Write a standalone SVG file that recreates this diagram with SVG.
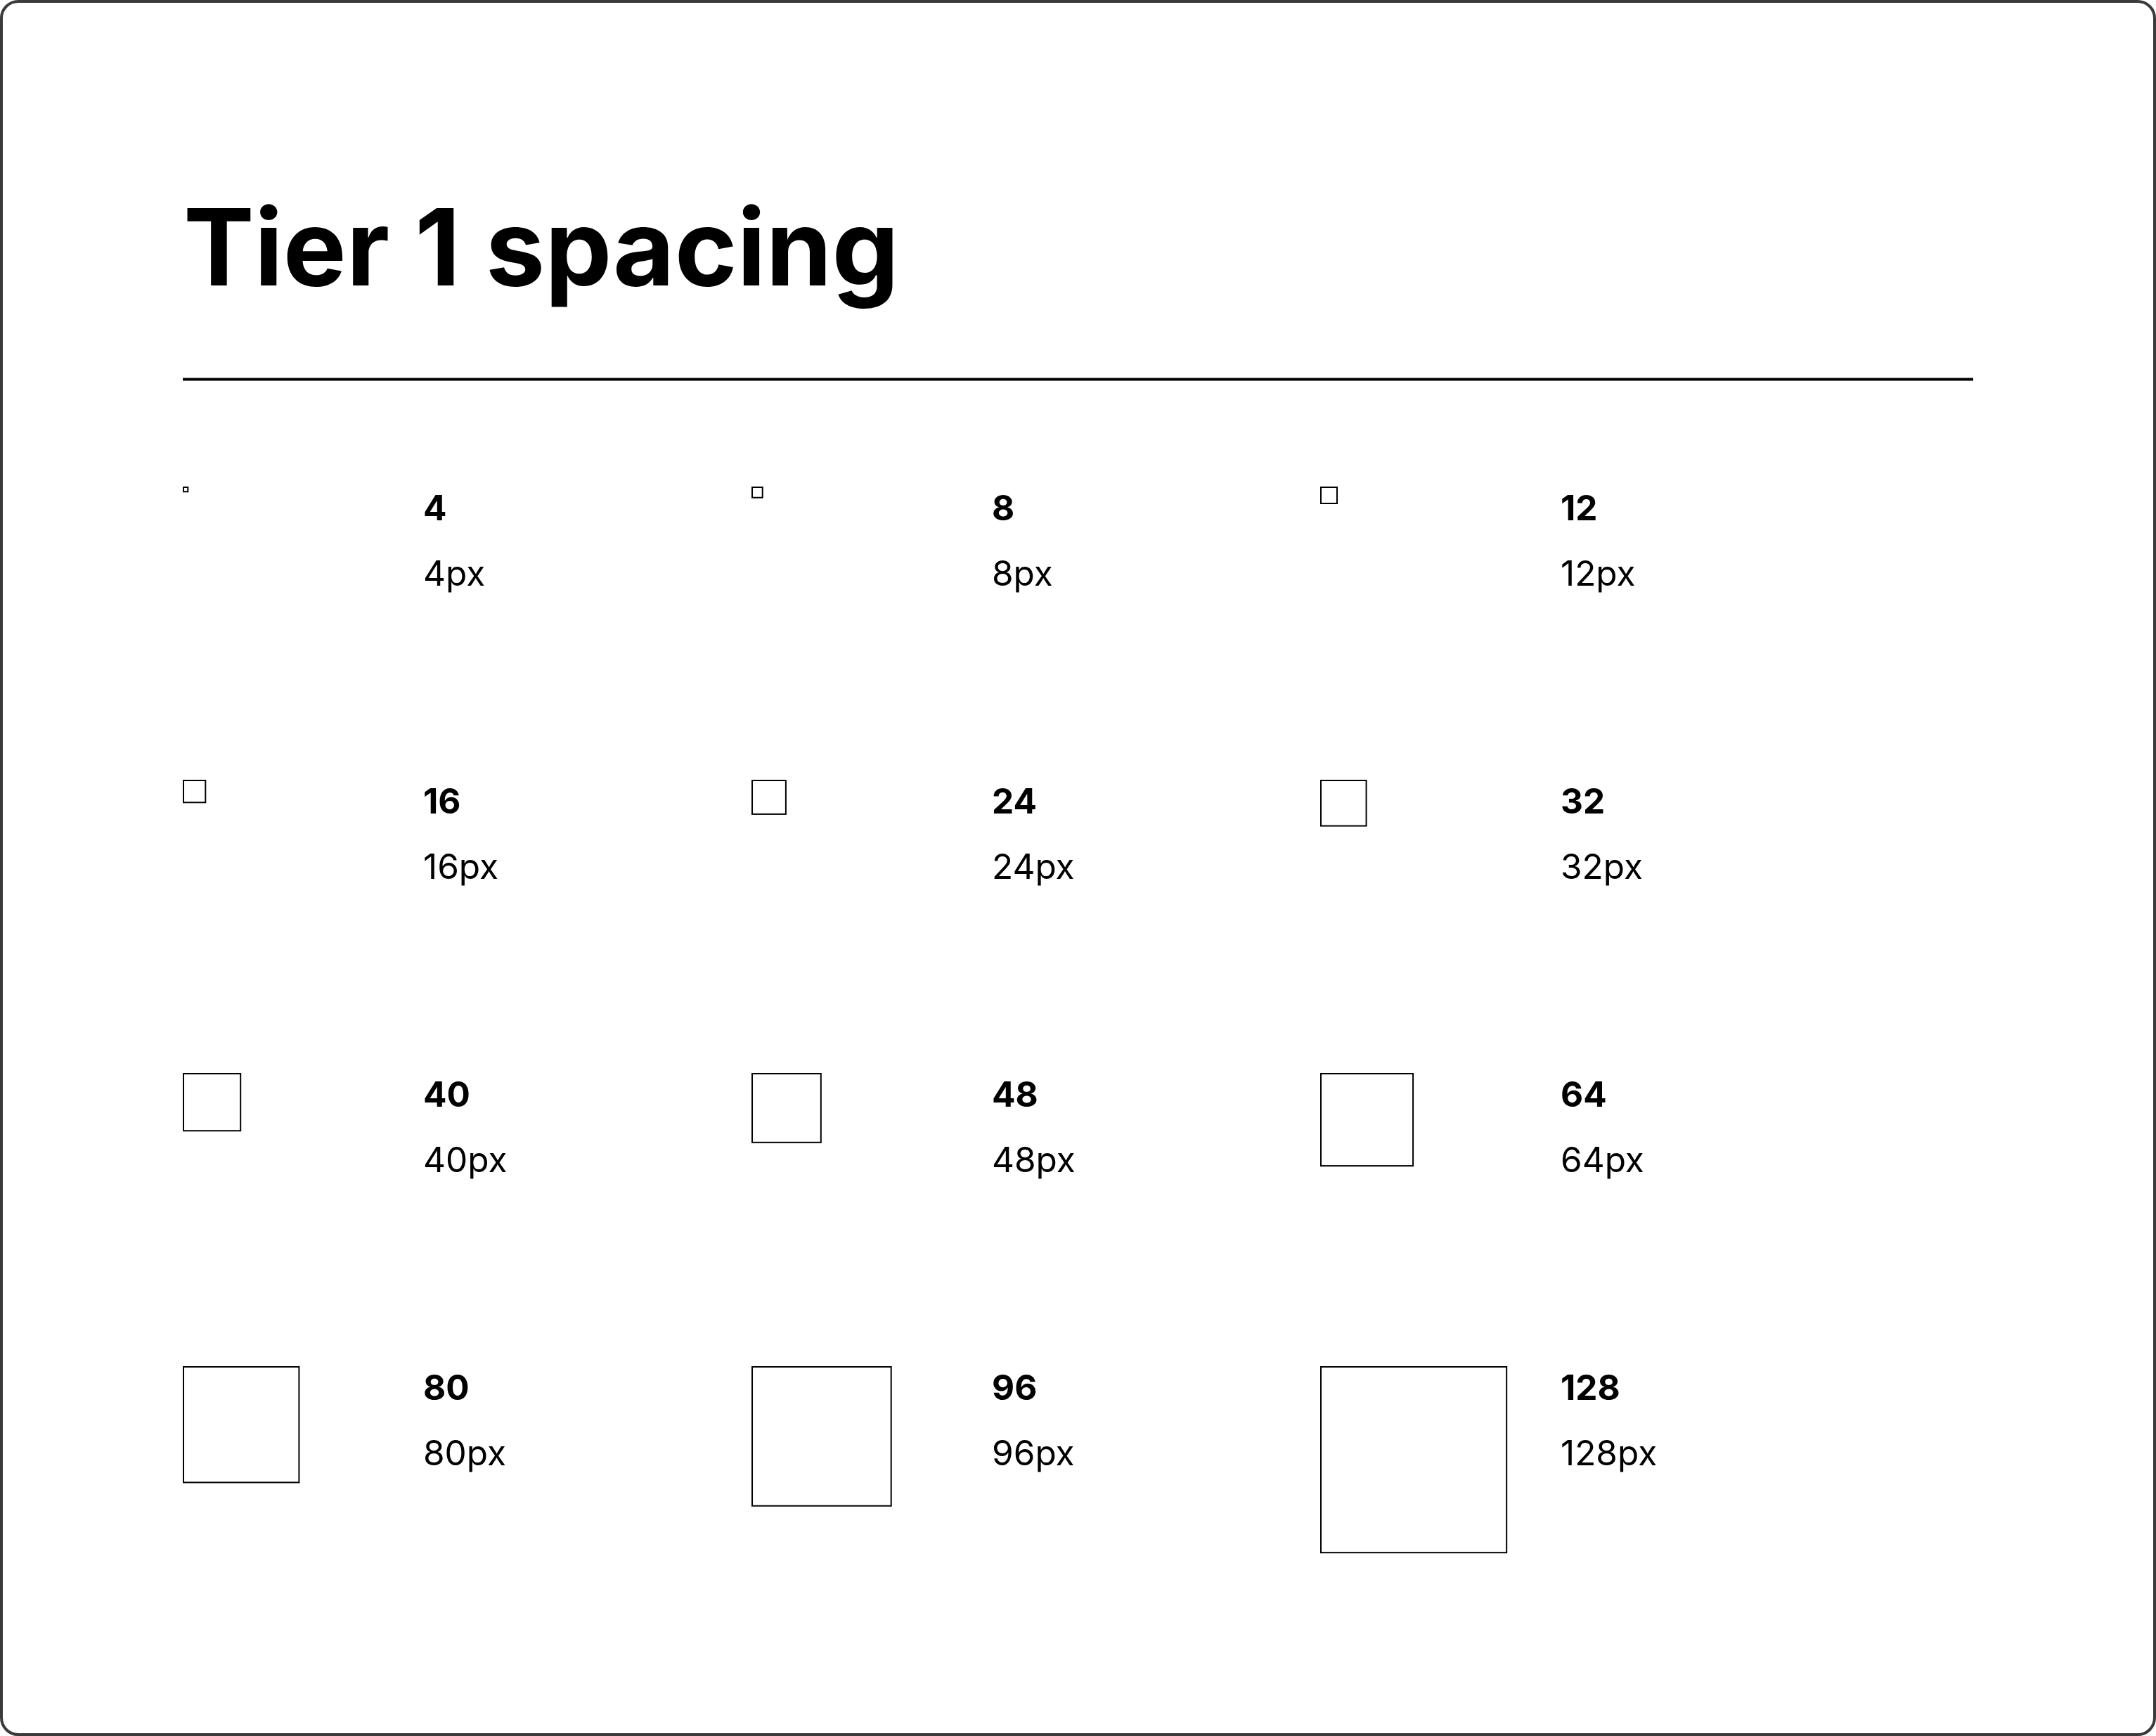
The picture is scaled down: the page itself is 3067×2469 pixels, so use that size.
<svg xmlns="http://www.w3.org/2000/svg" width="3067" height="2469" viewBox="0 0 3067 2469">
<style>
.frame{fill:#fff;stroke:#3a3a3a;stroke-width:4}
.title{font-family:Inter,"Liberation Sans",sans-serif;font-weight:700;font-size:151px;fill:#000}
.rule{stroke:#000;stroke-width:4}
.box{fill:none;stroke:#000;stroke-width:2}
.num{font-family:Inter,"Liberation Sans",sans-serif;font-weight:700;font-size:49.5px;fill:#000}
.px{font-family:Inter,"Liberation Sans",sans-serif;font-weight:400;font-size:49.5px;fill:#000}
</style>
<rect class="frame" x="2" y="2" width="3063" height="2465" rx="24" ry="24"/>
<text class="title" x="261" y="406">Tier 1 spacing</text>
<line class="rule" x1="260" y1="539.5" x2="2807" y2="539.5"/>
<g id="connectors"></g>
<g id="s4"><rect class="box" x="261" y="693" width="6.3" height="6.3"/><text class="num" x="602" y="740">4</text><text class="px" x="602" y="833">4px</text></g>
<g id="s8"><rect class="box" x="1070" y="693" width="14.7" height="14.7"/><text class="num" x="1411" y="740">8</text><text class="px" x="1411" y="833">8px</text></g>
<g id="s12"><rect class="box" x="1879" y="693" width="23" height="23"/><text class="num" x="2220" y="740">12</text><text class="px" x="2220" y="833">12px</text></g>
<g id="s16"><rect class="box" x="261" y="1110" width="31.3" height="31.3"/><text class="num" x="602" y="1157">16</text><text class="px" x="602" y="1250">16px</text></g>
<g id="s24"><rect class="box" x="1070" y="1110" width="47.9" height="47.9"/><text class="num" x="1411" y="1157">24</text><text class="px" x="1411" y="1250">24px</text></g>
<g id="s32"><rect class="box" x="1879" y="1110" width="64.6" height="64.6"/><text class="num" x="2220" y="1157">32</text><text class="px" x="2220" y="1250">32px</text></g>
<g id="s40"><rect class="box" x="261" y="1527" width="81.2" height="81.2"/><text class="num" x="602" y="1574">40</text><text class="px" x="602" y="1667">40px</text></g>
<g id="s48"><rect class="box" x="1070" y="1527" width="97.8" height="97.8"/><text class="num" x="1411" y="1574">48</text><text class="px" x="1411" y="1667">48px</text></g>
<g id="s64"><rect class="box" x="1879" y="1527" width="131.1" height="131.1"/><text class="num" x="2220" y="1574">64</text><text class="px" x="2220" y="1667">64px</text></g>
<g id="s80"><rect class="box" x="261" y="1944" width="164.4" height="164.4"/><text class="num" x="602" y="1991">80</text><text class="px" x="602" y="2084">80px</text></g>
<g id="s96"><rect class="box" x="1070" y="1944" width="197.7" height="197.7"/><text class="num" x="1411" y="1991">96</text><text class="px" x="1411" y="2084">96px</text></g>
<g id="s128"><rect class="box" x="1879" y="1944" width="264.2" height="264.2"/><text class="num" x="2220" y="1991">128</text><text class="px" x="2220" y="2084">128px</text></g>
</svg>
